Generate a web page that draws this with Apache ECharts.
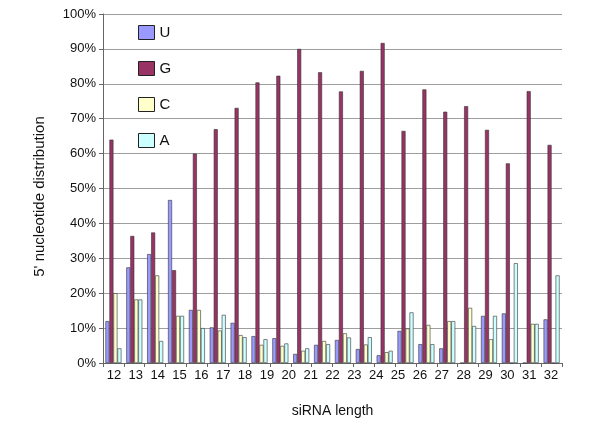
<!DOCTYPE html>
<html>
<head>
<meta charset="utf-8">
<script src="https://cdn.jsdelivr.net/npm/echarts@6/dist/echarts.min.js"></script>
<style>
  html, body { margin: 0; background: #fff; }
  #chart { width: 600px; height: 424px; }
</style>
</head>
<body>
<div id="chart"></div>
<script>
// tick labels printed under the axis (21 of them)
const lengths = ['12', '13', '14', '15', '16', '17', '18', '19', '20', '21', '22',
  '23', '24', '25', '26', '27', '28', '29', '30', '31', '32'];
// the picture actually holds 22 bar groups, so bars sit on their own slots
const groups = ['1', '2', '3', '4', '5', '6', '7', '8', '9', '10', '11',
  '12', '13', '14', '15', '16', '17', '18', '19', '20', '21', '22'];

// percentages
const uVals = [12.0, 27.4, 31.2, 46.7, 15.2, 10.2, 11.5, 7.7, 7.1, 2.6, 5.2,
  6.6, 4.0, 2.2, 9.2, 5.4, 4.2, 0, 13.5, 14.2, 0, 12.5];
const gVals = [64.0, 36.4, 37.4, 26.6, 60.0, 67.0, 73.1, 80.4, 82.3, 90.0, 83.3,
  77.8, 83.7, 91.7, 66.5, 78.4, 72.0, 73.6, 66.8, 57.2, 77.9, 62.5];
const cVals = [20.0, 18.2, 25.1, 13.5, 15.2, 9.3, 8.0, 5.2, 4.9, 3.5, 6.3,
  8.5, 5.3, 3.1, 9.9, 10.9, 12.0, 15.8, 6.8, 0, 11.2, 0];
const aVals = [4.2, 18.2, 6.3, 13.5, 10.0, 13.8, 7.4, 6.8, 5.6, 4.2, 5.4,
  7.3, 7.4, 3.5, 14.5, 5.4, 12.0, 10.6, 13.5, 28.6, 11.2, 25.1];

const yTicks = [0, 10, 20, 30, 40, 50, 60, 70, 80, 90, 100];

const FONT = 'Liberation Sans, Arial, sans-serif';
const chart = echarts.init(document.getElementById('chart'));

function barSeries(name, data, color) {
  return {
    name: name,
    type: 'bar',
    xAxisIndex: 0,
    data: data,
    barWidth: 4,
    barGap: '0%',
    itemStyle: { color: color, borderColor: '#333', borderWidth: 0.6 },
    emphasis: { disabled: true }
  };
}

chart.setOption({
  animation: false,
  textStyle: { fontFamily: FONT },
  grid: { left: 103, right: 38, top: 14, bottom: 61 },
  legend: {
    orient: 'vertical',
    left: 133,
    top: 20,
    itemWidth: 16,
    itemHeight: 14,
    itemGap: 21,
    icon: 'rect',
    itemStyle: { borderColor: '#222', borderWidth: 1 },
    textStyle: { fontSize: 15, color: '#111', fontFamily: FONT },
    data: ['U', 'G', 'C', 'A']
  },
  xAxis: [
    {
      type: 'category',
      data: groups,
      name: 'siRNA length',
      nameLocation: 'middle',
      nameGap: 41,
      nameTextStyle: { fontSize: 14, color: '#111', fontFamily: FONT },
      axisLine: { lineStyle: { color: '#666', width: 1 } },
      axisTick: { show: true, interval: 0, length: 4, lineStyle: { color: '#666' } },
      axisLabel: { show: false },
      splitLine: { show: false }
    },
    {
      type: 'category',
      data: lengths,
      position: 'bottom',
      axisLine: { show: false },
      axisTick: { show: false },
      axisLabel: { interval: 0, fontSize: 13, color: '#111', margin: 6, fontFamily: FONT },
      splitLine: { show: false }
    }
  ],
  yAxis: {
    type: 'value',
    min: yTicks[0],
    max: yTicks[yTicks.length - 1],
    interval: 10,
    name: "5' nucleotide distribution",
    nameLocation: 'middle',
    nameGap: 56,
    nameTextStyle: { fontSize: 15, color: '#111', fontFamily: FONT, padding: [0, 16, 0, 0] },
    axisLine: { show: true, lineStyle: { color: '#666', width: 1 } },
    axisTick: { show: true, length: 4, lineStyle: { color: '#666' } },
    axisLabel: { formatter: '{value}%', fontSize: 13, color: '#111', margin: 7, fontFamily: FONT },
    splitLine: { lineStyle: { color: '#9e9e9e', width: 1.2 } }
  },
  series: [
    barSeries('U', uVals, '#9999ff'),
    barSeries('G', gVals, '#993366'),
    barSeries('C', cVals, '#ffffcc'),
    barSeries('A', aVals, '#ccffff')
  ]
});
</script>
</body>
</html>
